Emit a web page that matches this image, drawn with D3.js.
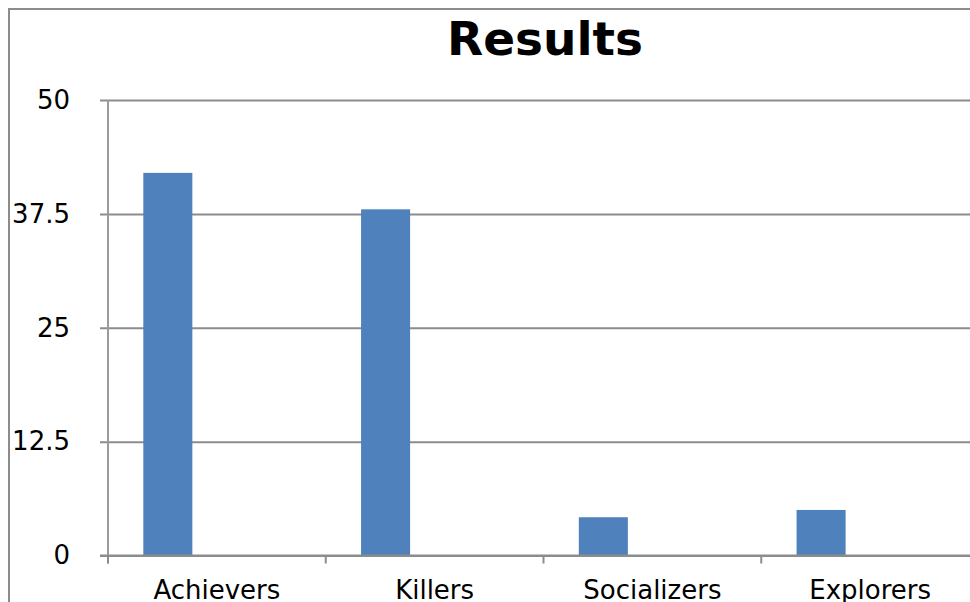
<!DOCTYPE html>
<html>
<head>
<meta charset="utf-8">
<script src="https://cdn.jsdelivr.net/npm/d3@7"></script>
<style>
  body { margin: 0; background: #ffffff; }
  svg { display: block; font-family: "DejaVu Sans", Verdana, sans-serif; }
</style>
</head>
<body>
<div id="chart"></div>
<script>
// chart data
let categories = ["Achievers", "Killers", "Socializers", "Explorers"];
let series = ["Series 1", "Series 2", "Series 3"];
let values = [42, 38, 4.2, 5];
let yTicks = [0, 12.5, 25, 37.5, 50];
let title = "Results";

// initialize chart dimensions
let svgWidth = 970;
let svgHeight = 602;
let margin = { top: 100, right: -9, bottom: 46.5, left: 108 };
let chartWidth = svgWidth - margin.left - margin.right;
let chartHeight = svgHeight - margin.top - margin.bottom;

// create x and y scales
let xScale = d3.scaleBand()
  .domain(categories)
  .range([0, chartWidth])
  .padding(0);

// only the first series holds values, the others are empty
let xSeries = d3.scaleBand()
  .domain(series)
  .range([0, xScale.bandwidth()])
  .paddingInner(0)
  .paddingOuter(0.72);

let yScale = d3.scaleLinear()
  .domain([0, 50])
  .range([chartHeight, 0]);

let svg = d3.select("#chart").append("svg")
  .attr("width", svgWidth)
  .attr("height", svgHeight);

// outer chart frame
svg.append("rect")
  .attr("x", 9)
  .attr("y", 9)
  .attr("width", svgWidth + 20)
  .attr("height", svgHeight + 20)
  .attr("fill", "none")
  .attr("stroke", "#8c8c8c")
  .attr("stroke-width", 2);

// title
svg.append("text")
  .attr("x", 545)
  .attr("y", 55)
  .attr("text-anchor", "middle")
  .style("font-size", "47px")
  .style("font-weight", "bold")
  .attr("fill", "#000000")
  .text(title);

let chartGroup = svg.append("g")
  .attr("transform", "translate(" + margin.left + "," + margin.top + ")");

// gridlines and y axis
let yAxis = d3.axisLeft(yScale)
  .tickValues(yTicks)
  .tickSize(-chartWidth)
  .tickPadding(38)
  .tickFormat(function(d) { return d; });

let yAxisGroup = chartGroup.append("g").call(yAxis);
yAxisGroup.select(".domain").remove();
yAxisGroup.selectAll(".tick line")
  .attr("x1", -8)
  .attr("stroke", "#8c8c8c")
  .attr("stroke-width", 2);
yAxisGroup.selectAll(".tick text")
  .attr("fill", "#000000")
  .style("font-size", "26px")
  .style("font-family", "\"DejaVu Sans\", Verdana, sans-serif");

// vertical axis line
chartGroup.append("line")
  .attr("x1", 0)
  .attr("x2", 0)
  .attr("y1", yScale(50))
  .attr("y2", yScale(0) + 8)
  .attr("stroke", "#9a9a9a")
  .attr("stroke-width", 2);

// bars
chartGroup.selectAll("rect.bar")
  .data(categories)
  .enter()
  .append("rect")
  .attr("class", "bar")
  .attr("x", function(d) { return xScale(d) + xSeries(series[0]); })
  .attr("y", function(d, i) { return yScale(values[i]); })
  .attr("width", xSeries.bandwidth())
  .attr("height", function(d, i) { return yScale(0) - yScale(values[i]); })
  .attr("fill", "#4f81bd");

// x axis with category ticks between bands
chartGroup.append("line")
  .attr("x1", -8)
  .attr("x2", chartWidth)
  .attr("y1", yScale(0))
  .attr("y2", yScale(0))
  .attr("stroke", "#8c8c8c")
  .attr("stroke-width", 2);

chartGroup.selectAll("line.xtick")
  .data(categories)
  .enter()
  .append("line")
  .attr("class", "xtick")
  .attr("x1", function(d) { return xScale(d); })
  .attr("x2", function(d) { return xScale(d); })
  .attr("y1", yScale(0))
  .attr("y2", yScale(0) + 8)
  .attr("stroke", "#8c8c8c")
  .attr("stroke-width", 2);

chartGroup.selectAll("text.xlabel")
  .data(categories)
  .enter()
  .append("text")
  .attr("class", "xlabel")
  .attr("x", function(d) { return xScale(d) + xScale.bandwidth() / 2; })
  .attr("y", yScale(0) + 43)
  .attr("text-anchor", "middle")
  .style("font-size", "26px")
  .attr("fill", "#000000")
  .text(function(d) { return d; });
</script>
</body>
</html>
